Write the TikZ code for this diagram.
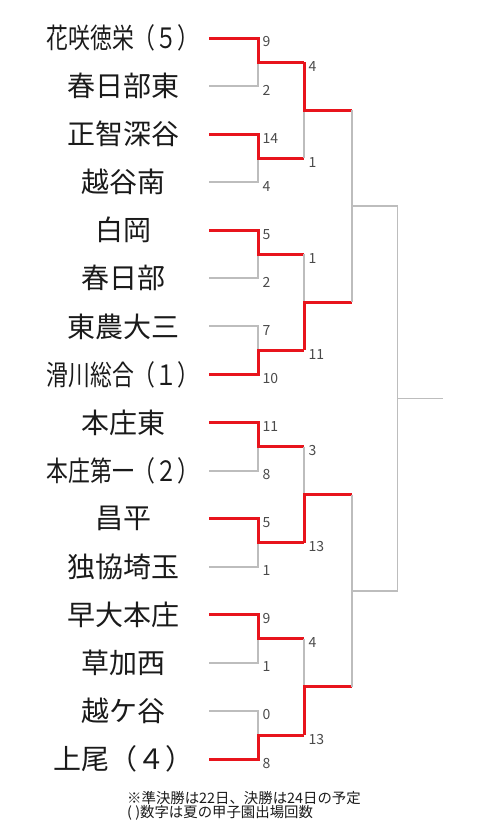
\documentclass[tikz,border=0pt]{standalone}
\usepackage{fontspec}
\setmainfont{Noto Sans CJK JP}
\usepackage{tikz}
\usetikzlibrary{positioning}
\definecolor{ink}{HTML}{1A1A1A}
\definecolor{winred}{HTML}{E8141C}
\definecolor{muted}{HTML}{BDBDBD}
\definecolor{scoregray}{HTML}{4A4A4A}

\begin{document}
\begin{tikzpicture}[x=1pt, y=-1pt,
  win/.style={winred, line width=3pt},
  lose/.style={muted, line width=1.9pt},
  team/.style={ink, inner sep=0pt, font=\fontsize{28}{30}\selectfont},
  slim/.style={team, xscale=0.78},
  pt/.style={scoregray, anchor=west, inner sep=0pt, xshift=4.5pt, yshift=-4pt, font=\fontsize{14}{15}\selectfont},
  note/.style={ink, inner sep=0pt, align=left, font=\fontsize{14.4}{12}\selectfont}]
\useasboundingbox (0,0) rectangle (482,830);
% teams, top to bottom
\foreach \i/\name/\sty in {1/花咲徳栄（５）/slim, 2/春日部東/team, 3/正智深谷/team, 4/越谷南/team,
    5/白岡/team, 6/春日部/team, 7/東農大三/team, 8/滑川総合（１）/slim,
    9/本庄東/team, 10/本庄第一（２）/slim, 11/昌平/team, 12/独協埼玉/team,
    13/早大本庄/team, 14/草加西/team, 15/越ケ谷/team, 16/上尾（４）/team} {
  \coordinate (T\i) at (209, {38+48.07*(\i-1)});
  \node[\sty] (N\i) at (123, {38+48.07*(\i-1)}) {\name};
}
% rounds
\foreach \j in {1,...,8} \coordinate (M\j) at (258, {62.04+96.14*(\j-1)});
\foreach \k in {1,...,4} \coordinate (Q\k) at (304, {110.1+192.28*(\k-1)});
\coordinate (S1) at (352, 206.2);
\coordinate (S2) at (352, 590.8);
\coordinate (F) at (397.5, 398.5);
\coordinate (W) at (443, 398.5);
% first round
\foreach \j/\w/\l in {1/1/2, 2/3/4, 3/5/6, 4/8/7, 5/9/10, 6/11/12, 7/13/14, 8/16/15} {
  \draw[lose] (T\l) -| (M\j);
  \draw[win] (T\w) -| (M\j) -- (M\j -| Q1);
}
% second round
\foreach \k/\w/\l/\s in {1/1/2/1, 2/4/3/1, 3/6/5/2, 4/8/7/2} {
  \draw[lose] (M\l -| Q\k) -- (Q\k);
  \draw[win] (M\w -| Q\k) -- (Q\k) -- (Q\k -| S\s);
}
% not yet played
\draw[lose] (Q1 -| S1) -- (Q2 -| S1);
\draw[lose] (Q3 -| S2) -- (Q4 -| S2);
\draw[lose] (S1) -| (F);
\draw[lose] (S2) -| (F);
\draw[lose] (F) -- (W);
% scores
\foreach \i/\v in {1/9, 2/2, 3/14, 4/4, 5/5, 6/2, 7/7, 8/10, 9/11, 10/8, 11/5, 12/1, 13/9, 14/1, 15/0, 16/8}
  \node[pt] (P\i) at (T\i -| M1) {\v};
\foreach \j/\v in {1/4, 2/1, 3/1, 4/11, 5/3, 6/13, 7/4, 8/13}
  \node[pt] (R\j) at (M\j -| Q1) {\v};
\node[note, anchor=north west] (memo) at (127, 791) {※準決勝は22日、決勝は24日の予定\\( )数字は夏の甲子園出場回数};
\end{tikzpicture}
\end{document}
